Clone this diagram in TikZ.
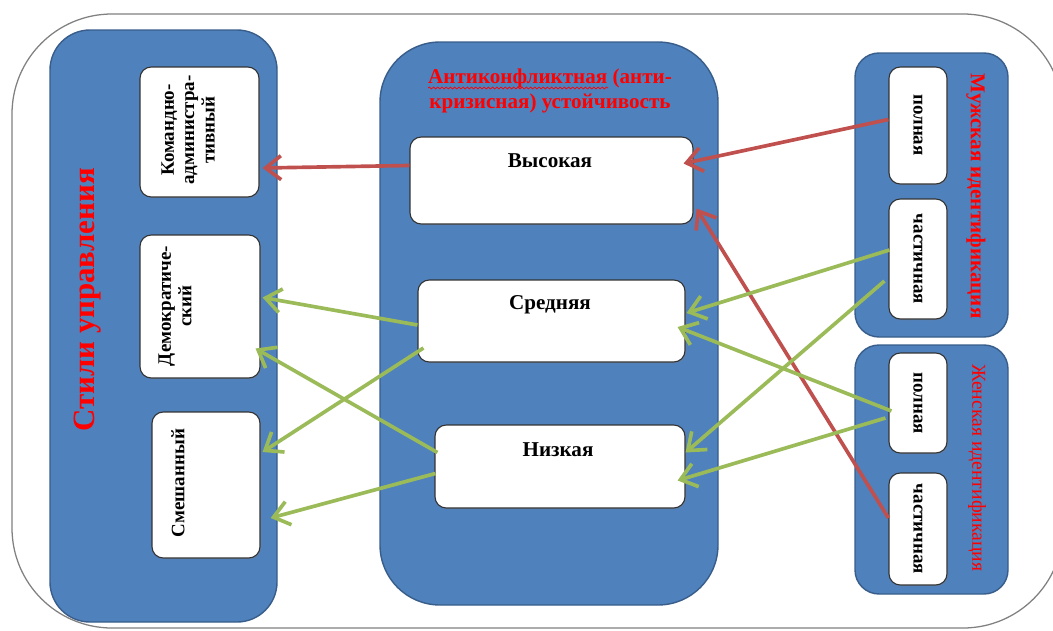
\documentclass[tikz,border=0pt]{standalone}
\usepackage{fontspec}
\setmainfont{Liberation Serif}
\usetikzlibrary{arrows.meta,fit,calc,shadows,decorations.pathmorphing}
\definecolor{panelblue}{RGB}{79,129,189}
\definecolor{panelline}{RGB}{56,93,138}
\definecolor{arrred}{RGB}{192,80,77}
\definecolor{arrgreen}{RGB}{155,187,89}
\definecolor{titlered}{RGB}{255,0,0}

\begin{document}
\begin{tikzpicture}[x=0.025cm,y=-0.025cm,
   panel/.style={draw=panelline,line width=1pt,fill=panelblue},
   box/.style={draw=black!80,line width=0.8pt,fill=white,rounded corners=8pt,inner sep=0pt,
      drop shadow={opacity=0.25,shadow xshift=1pt,shadow yshift=-1pt}},
   rarr/.style={draw=arrred,line width=2.6pt,-{Straight Barb[length=11pt,width=17pt]}},
   garr/.style={draw=arrgreen,line width=2.6pt,-{Straight Barb[length=11pt,width=17pt]}},
   lbl/.style={font=\fontsize{15}{17}\selectfont\bfseries},
   vlbl/.style={font=\fontsize{13.5}{14.5}\selectfont\bfseries,align=center},
   ttl/.style={text=titlered,align=center}]
   \useasboundingbox (0,0) rectangle (1053,631);

   % outer frame
   \draw[gray,line width=0.9pt,rounded corners=2.5cm] (12,14) rectangle (1063,628);

   % panels
   \draw[panel,rounded corners=1cm] (50,30) rectangle (277,622);
   \draw[panel,rounded corners=1.5cm] (380,42) rectangle (718,605);
   \draw[panel,rounded corners=0.6cm] (855,53) rectangle (1008,337);
   \draw[panel,rounded corners=0.6cm] (855,345) rectangle (1008,594);

   % left: styles
   \node[box,fit={(140,67) (259,197)}] (komand) {};
   \node[box,fit={(140,235) (260,378)}] (demo) {};
   \node[box,fit={(152,412) (260,558)}] (smesh) {};
   \node[vlbl,rotate=90] (komand-t) at (188,130) {Командно-\\администра-\\тивный};
   \node[vlbl,rotate=90] (demo-t) at (175,306) {Демократиче-\\ский};
   \node[vlbl,rotate=90] (smesh-t) at (178,483) {Смешанный};
   \node[ttl,rotate=90,font=\fontsize{22}{24}\selectfont\bfseries] (stili-t) at (88,300) {Стили управления};

   % centre: stability
   \node[ttl,font=\fontsize{15}{18}\selectfont\bfseries] (anti-t) at (550,91)
      {Антиконфликтная (анти-\\кризисная) устойчивость};
   \draw[titlered,line width=0.5pt,decorate,decoration={snake,amplitude=0.7pt,segment length=3pt}]
      (428,88) -- (608,88);
   \node[box,fit={(410,137) (693,224)}] (vys) {};
   \node[box,fit={(418,280) (685,362)}] (sred) {};
   \node[box,fit={(435,425) (685,508)}] (nizk) {};
   \node[lbl] (vys-t) at (550,161) {Высокая};
   \node[lbl] (sred-t) at (550,305) {Средняя};
   \node[lbl] (nizk-t) at (558,450) {Низкая};

   % right: identification
   \node[box,fit={(889,67) (947,184)}] (mpol) {};
   \node[box,fit={(889,199) (947,319)}] (mchast) {};
   \node[box,fit={(889,353) (947,453)}] (zpol) {};
   \node[box,fit={(889,473) (947,585)}] (zchast) {};
   \node[vlbl,rotate=-90] (mpol-t) at (918,125) {полная};
   \node[vlbl,rotate=-90] (mchast-t) at (918,259) {частичная};
   \node[vlbl,rotate=-90] (zpol-t) at (918,403) {полная};
   \node[vlbl,rotate=-90] (zchast-t) at (918,529) {частичная};
   \node[ttl,rotate=-90,font=\fontsize{15}{17}\selectfont\bfseries] (muzh-t) at (976,196) {Мужская идентификация};
   \node[ttl,rotate=-90,font=\fontsize{14}{16}\selectfont] (zhen-t) at (977,468) {Женская идентификация};

   % connectors
   \draw[rarr] ($(vys.west)+(0,-15)$) -- ($(komand.east)+(3,36)$);
   \draw[rarr] ($(mpol.west)+(0,-6)$) -- ($(vys.east)+(-10,-17)$);
   \draw[rarr] ($(zchast.west)+(0,-11)$) -- ($(vys.east)+(3,28)$);
   \draw[garr] ($(sred.west)+(0,4)$) -- ($(demo.east)+(2,-9)$);
   \draw[garr] ($(sred.west)+(6,27)$) -- ($(smesh.east)+(2,-33)$);
   \draw[garr] ($(nizk.west)+(3,-14)$) -- ($(demo.east)+(-5,42)$);
   \draw[garr] ($(nizk.west)+(1,7)$) -- ($(smesh.east)+(10,33)$);
   \draw[garr] ($(mchast.west)+(1,-9)$) -- ($(sred.east)+(1,-8)$);
   \draw[garr] ($(mchast.west)+(-4,22)$) -- ($(nizk.east)+(0,-14)$);
   \draw[garr] ($(zpol.west)+(3,8)$) -- ($(sred.east)+(-8,6)$);
   \draw[garr] ($(zpol.west)+(-3,15)$) -- ($(nizk.east)+(-8,14)$);
\end{tikzpicture}
\end{document}
